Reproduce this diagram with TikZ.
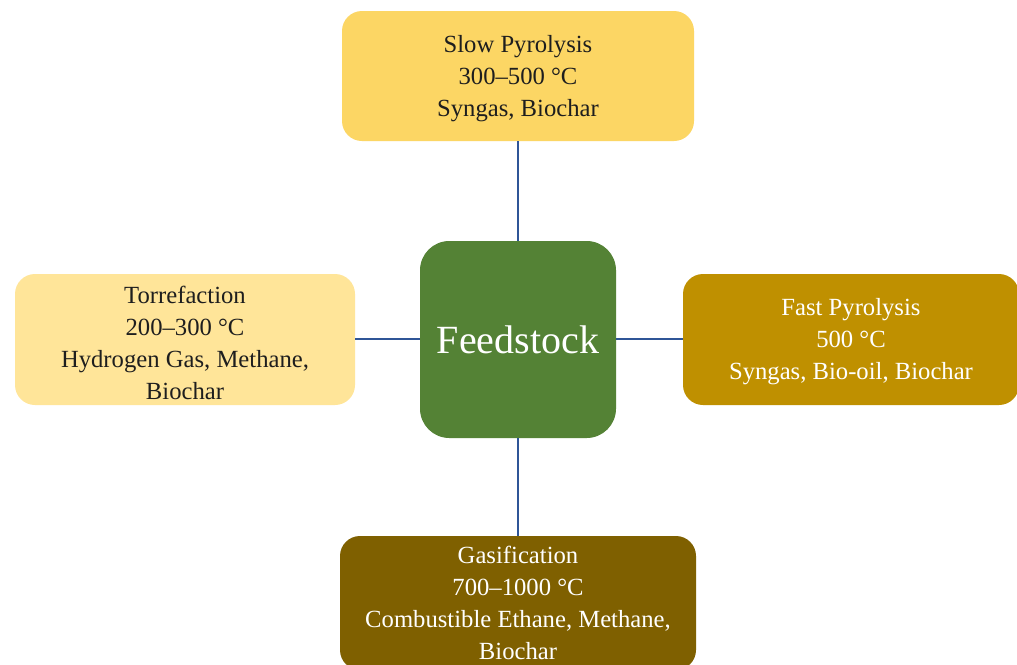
\documentclass[tikz,border=0pt]{standalone}
\usepackage{fontspec}
\setmainfont{Liberation Serif}
\definecolor{lineblue}{RGB}{47,85,151}
\definecolor{slowc}{RGB}{252,214,100}
\definecolor{torc}{RGB}{255,229,153}
\definecolor{fastc}{RGB}{191,144,0}
\definecolor{gasc}{RGB}{127,96,0}
\definecolor{feedc}{RGB}{84,130,53}
\definecolor{darktext}{RGB}{30,30,30}
\begin{document}
\begin{tikzpicture}[x=0.75pt,y=-0.75pt,
  procbox/.style={rectangle, rounded corners=15pt, draw=none, align=center,
    font=\fontsize{18.5}{24}\selectfont, inner sep=0pt},
  proctext/.style={align=center, font=\fontsize{18.5}{24}\selectfont, inner sep=0pt},
  conn/.style={draw=lineblue, line width=1.2pt}]
\clip (0,0) rectangle (1017,664);
\fill[white] (0,0) rectangle (1017,664);
\node[procbox, fill=slowc, minimum width=352*0.75pt, minimum height=130*0.75pt] (slow) at (518,76) {};
\node[proctext, text=darktext] (slowt) at (518,79) {Slow Pyrolysis\\300–500 °C\\Syngas, Biochar};
\node[procbox, fill=torc, minimum width=340*0.75pt, minimum height=131*0.75pt] (tor) at (185,339.5) {};
\node[proctext, text=darktext] (tort) at (185,343) {Torrefaction\\200–300 °C\\Hydrogen Gas, Methane,\\Biochar};
\node[procbox, fill=fastc, minimum width=336*0.75pt, minimum height=131*0.75pt] (fast) at (851,339.5) {};
\node[proctext, text=white] (fastt) at (851,342) {Fast Pyrolysis\\500 °C\\Syngas, Bio-oil, Biochar};
\node[procbox, fill=gasc, minimum width=356*0.75pt, minimum height=134*0.75pt] (gas) at (518,603) {};
\node[proctext, text=white] (gast) at (518,603) {Gasification\\700–1000 °C\\Combustible Ethane, Methane,\\Biochar};
\node[rectangle, rounded corners=22pt, fill=feedc, text=white, minimum width=196*0.75pt, minimum height=197*0.75pt, font=\fontsize{30}{34}\selectfont] (feed) at (518,339.5) {Feedstock};
\coordinate (torr) at (tor.east |- 0,339);
\coordinate (feedl) at (feed.west |- 0,339);
\coordinate (feedr) at (feed.east |- 0,339);
\coordinate (fastl) at (fast.west |- 0,339);
\draw[conn] (slow) -- (feed);
\draw[conn] (feed) -- (gas);
\draw[conn] (torr) -- (feedl);
\draw[conn] (feedr) -- (fastl);
\end{tikzpicture}
\end{document}
